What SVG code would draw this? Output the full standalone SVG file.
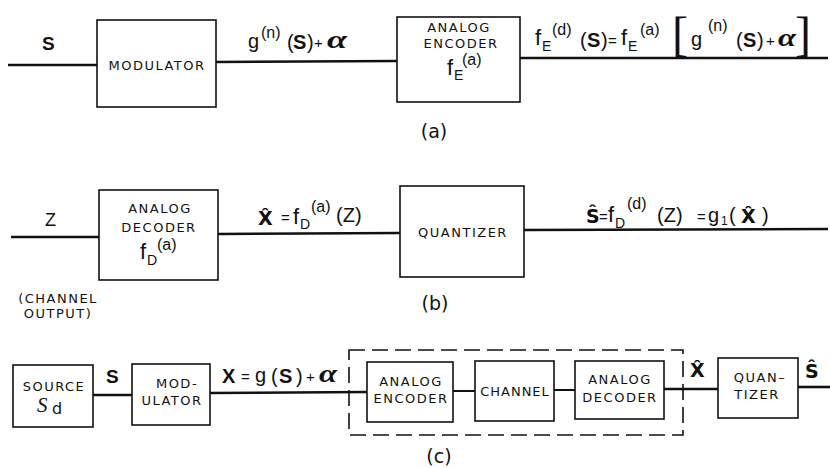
<svg xmlns="http://www.w3.org/2000/svg" width="830" height="468" viewBox="0 0 830 468">
<style>
  .box { fill: #fff; stroke: #111; stroke-width: 1.6; }
  .wire { stroke: #111; stroke-width: 2.6; fill: none; }
  .thin { stroke: #111; stroke-width: 2; fill: none; }
  .dash { stroke: #111; stroke-width: 1.6; fill: none; stroke-dasharray: 16 7; }
  .bt { font-family: "DejaVu Sans", "Liberation Sans", sans-serif; font-size: 13px; letter-spacing: 1.5px; fill: #111; text-anchor: middle; }
  .m { font-family: "Liberation Sans", "DejaVu Sans", sans-serif; font-size: 20px; fill: #111; }
  .f { font-size: 22px; }
  .sp { font-size: 16px; }
  .sb { font-size: 14px; }
  .op { font-size: 15px; }
  .b { font-weight: bold; }
  .h { font-family: "DejaVu Sans", sans-serif; font-weight: bold; font-size: 19px; }
  .al { font-family: "Liberation Serif", "DejaVu Serif", serif; font-style: italic; font-weight: bold; font-size: 25px; fill: #111; }
  .br { font-family: "Liberation Serif", serif; font-size: 48px; fill: #111; }
  .cap { font-family: "DejaVu Sans", "Liberation Sans", sans-serif; font-size: 19px; fill: #111; text-anchor: middle; }
</style>

<g id="connectors">
  <line class="wire" x1="8" y1="65" x2="97" y2="65"/>
  <line class="wire" x1="216" y1="62" x2="397" y2="61"/>
  <line class="wire" x1="520" y1="58" x2="828" y2="58"/>
  <line class="wire" x1="11" y1="237" x2="99" y2="237"/>
  <line class="wire" x1="218" y1="234" x2="400" y2="233"/>
  <line class="wire" x1="524" y1="230" x2="828" y2="229"/>
  <line class="wire" x1="93" y1="395" x2="132" y2="395"/>
  <line class="wire" x1="210" y1="393" x2="367" y2="392"/>
  <line class="thin" x1="453" y1="391" x2="475" y2="391"/>
  <line class="thin" x1="554" y1="390" x2="575" y2="390"/>
  <line class="wire" x1="664" y1="389" x2="718" y2="389"/>
  <line class="wire" x1="798" y1="387" x2="830" y2="387"/>
</g>

<!-- ===== (a) ===== -->
<g id="label-s-a"><text class="m b" x="42" y="50" style="font-size:19px">S</text></g>

<g id="modulator-a">
  <rect class="box" x="97" y="20" width="119" height="87"/>
  <text class="bt" x="157" y="70">MODULATOR</text>
</g>

<g id="label-g-a">
  <text class="m"><tspan x="248" y="48">g</tspan><tspan class="sp" x="261" y="38">(n)</tspan><tspan x="287" y="49">(</tspan><tspan class="b" x="293" y="49">S</tspan><tspan x="307" y="49">)</tspan><tspan class="op" x="314" y="48">+</tspan></text>
  <text class="al" transform="translate(327 48) scale(1.45 1)">α</text>
</g>

<g id="encoder-a">
  <rect class="box" x="397" y="17" width="123" height="85"/>
  <text class="bt" x="459" y="32">ANALOG</text>
  <text class="bt" x="461" y="48">ENCODER</text>
  <text class="m"><tspan class="f" x="447" y="75">f</tspan><tspan class="sb" x="454" y="80">E</tspan><tspan class="sp" x="462" y="65">(a)</tspan></text>
</g>

<g id="label-fe-a">
  <text class="m"><tspan class="f" x="535" y="45">f</tspan><tspan class="sb" x="542" y="51">E</tspan><tspan class="sp" x="552" y="35">(d)</tspan><tspan x="580" y="47">(</tspan><tspan class="b" x="587" y="47">S</tspan><tspan x="601" y="47">)</tspan><tspan class="op" x="608" y="46">=</tspan><tspan class="f" x="621" y="45">f</tspan><tspan class="sb" x="628" y="51">E</tspan><tspan class="sp" x="640" y="35">(a)</tspan></text>
  <text class="br" x="672" y="50">[</text>
  <text class="m"><tspan x="691" y="46">g</tspan><tspan class="sp" x="708" y="31">(n)</tspan><tspan x="736" y="47">(</tspan><tspan class="b" x="743" y="47">S</tspan><tspan x="757" y="47">)</tspan><tspan class="op" x="766" y="46">+</tspan></text>
  <text class="al" transform="translate(778 46) scale(1.3 1)">α</text>
  <text class="br" x="795" y="50">]</text>
</g>

<g id="caption-a"><text class="cap" x="434" y="138">(a)</text></g>

<!-- ===== (b) ===== -->
<g id="label-z"><text class="m" x="45" y="226" style="font-size:18px">Z</text></g>
<g id="channel-output">
  <text class="bt" x="58" y="303">(CHANNEL</text>
  <text class="bt" x="58" y="318">OUTPUT)</text>
</g>

<g id="decoder-b">
  <rect class="box" x="99" y="190" width="119" height="90"/>
  <text class="bt" x="160" y="213">ANALOG</text>
  <text class="bt" x="159" y="232">DECODER</text>
  <text class="m"><tspan class="f" x="140" y="259">f</tspan><tspan class="sb" x="147" y="265">D</tspan><tspan class="sp" x="157" y="250">(a)</tspan></text>
</g>

<g id="label-xhat-b">
  <text class="m"><tspan class="h" x="258" y="225">X̂</tspan><tspan class="op" x="281" y="223">=</tspan><tspan class="f" x="293" y="224">f</tspan><tspan class="sb" x="300" y="229">D</tspan><tspan class="sp" x="311" y="212">(a)</tspan><tspan x="336" y="222">(Z)</tspan></text>
</g>

<g id="quantizer-b">
  <rect class="box" x="400" y="186" width="124" height="91"/>
  <text class="bt" x="463" y="237">QUANTIZER</text>
</g>

<g id="label-shat-b">
  <text class="m"><tspan class="h" x="586" y="223">Ŝ</tspan><tspan class="op" x="599" y="222">=</tspan><tspan class="f" x="608" y="222">f</tspan><tspan class="sb" x="615" y="228">D</tspan><tspan class="sp" x="627" y="209">(d)</tspan><tspan x="657" y="222">(Z)</tspan><tspan class="op" x="697" y="222">=</tspan><tspan x="708" y="222">g</tspan><tspan style="font-size:12px" x="721" y="225">1</tspan><tspan x="729" y="222">(</tspan><tspan class="h" x="741" y="223">X̂</tspan><tspan x="762" y="222">)</tspan></text>
</g>

<g id="caption-b"><text class="cap" x="435" y="310">(b)</text></g>

<!-- ===== (c) ===== -->
<g id="source-c">
  <rect class="box" x="13" y="365" width="80" height="62"/>
  <text class="bt" x="54" y="391">SOURCE</text>
  <text x="37" y="412" style="font-family:'Liberation Serif','DejaVu Serif',serif;font-style:italic;font-size:21px;fill:#111">S</text>
  <text x="52" y="414" style="font-family:'DejaVu Sans',sans-serif;font-size:16px;fill:#111">d</text>
</g>

<g id="label-s-c"><text class="m b" x="106" y="383" style="font-size:19px">S</text></g>

<g id="modulator-c">
  <rect class="box" x="132" y="364" width="78" height="61"/>
  <text class="bt" x="177" y="388">MOD-</text>
  <text class="bt" x="172" y="405">ULATOR</text>
</g>

<g id="label-x-c">
  <text class="m"><tspan class="b" x="222" y="383">X</tspan><tspan class="op" x="241" y="382">=</tspan><tspan x="255" y="382">g</tspan><tspan x="271" y="383">(</tspan><tspan class="b" x="279" y="383">S</tspan><tspan x="296" y="383">)</tspan><tspan class="op" x="306" y="382">+</tspan></text>
  <text class="al" transform="translate(319 382) scale(1.3 1)">α</text>
</g>

<g id="dashed-group">
  <rect class="dash" x="349" y="350" width="334" height="85"/>
</g>

<g id="encoder-c">
  <rect class="box" x="367" y="362" width="86" height="60"/>
  <text class="bt" x="411" y="386">ANALOG</text>
  <text class="bt" x="411" y="403">ENCODER</text>
</g>

<g id="channel-c">
  <rect class="box" x="475" y="361" width="79" height="60"/>
  <text class="bt" x="515" y="396" style="letter-spacing:1px">CHANNEL</text>
</g>

<g id="decoder-c">
  <rect class="box" x="575" y="361" width="89" height="58"/>
  <text class="bt" x="620" y="384">ANALOG</text>
  <text class="bt" x="620" y="402">DECODER</text>
</g>

<g id="label-xhat-c">
  <text class="m"><tspan class="h" x="690" y="377">X̂</tspan></text>
</g>

<g id="quantizer-c">
  <rect class="box" x="718" y="358" width="80" height="60"/>
  <text class="bt" x="760" y="382">QUAN–</text>
  <text class="bt" x="757" y="399">TIZER</text>
</g>

<g id="label-shat-c">
  <text class="m"><tspan class="h" x="805" y="378">Ŝ</tspan></text>
</g>

<g id="caption-c"><text class="cap" x="439" y="463">(c)</text></g>
</svg>
